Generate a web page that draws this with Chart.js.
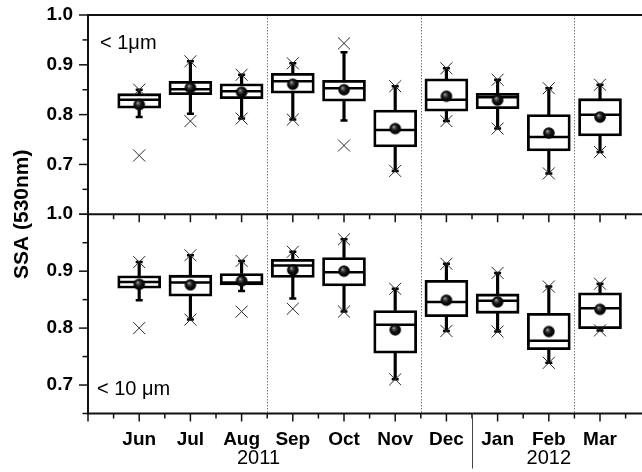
<!DOCTYPE html>
<html>
<head>
<meta charset="utf-8">
<script src="https://cdn.jsdelivr.net/npm/chart.js@4/dist/chart.umd.min.js"></script>
<style>
  html, body { margin: 0; padding: 0; background: #fff; }
  #wrap { width: 642px; height: 472px; position: relative; }
</style>
</head>
<body>
<div id="wrap"><canvas id="c" width="642" height="472"></canvas></div>
<script>
// Monthly SSA (530 nm) distributions, Jun 2011 - Mar 2012
const months = ['Jun', 'Jul', 'Aug', 'Sep', 'Oct', 'Nov', 'Dec', 'Jan', 'Feb', 'Mar'];
const monthPos = [1, 2, 3, 4, 5, 6, 7, 8, 9, 10];

// < 1 um
const pm1WhiskerLow  = [0.795, 0.802, 0.792, 0.790, 0.788, 0.687, 0.787, 0.772, 0.682, 0.725];
const pm1Q1          = [0.813, 0.840, 0.832, 0.843, 0.827, 0.735, 0.807, 0.812, 0.727, 0.757];
const pm1Median      = [0.830, 0.851, 0.847, 0.867, 0.853, 0.769, 0.830, 0.835, 0.755, 0.800];
const pm1Q3          = [0.842, 0.867, 0.862, 0.883, 0.869, 0.809, 0.872, 0.843, 0.800, 0.832];
const pm1WhiskerHigh = [0.850, 0.907, 0.880, 0.903, 0.925, 0.857, 0.893, 0.870, 0.853, 0.860];
const pm1Mean        = [0.820, 0.854, 0.845, 0.861, 0.850, 0.772, 0.837, 0.829, 0.763, 0.795];
const pm1Min         = [0.718, 0.787, 0.792, 0.790, 0.738, 0.687, 0.787, 0.772, 0.682, 0.725];
const pm1Max         = [0.850, 0.907, 0.880, 0.903, 0.943, 0.857, 0.893, 0.870, 0.853, 0.860];

// < 10 um
const pm10WhiskerLow  = [0.849, 0.815, 0.865, 0.852, 0.829, 0.710, 0.795, 0.794, 0.739, 0.796];
const pm10Q1          = [0.870, 0.856, 0.876, 0.889, 0.874, 0.756, 0.820, 0.826, 0.762, 0.799];
const pm10Median      = [0.881, 0.880, 0.880, 0.910, 0.898, 0.806, 0.846, 0.848, 0.778, 0.835];
const pm10Q3          = [0.892, 0.893, 0.896, 0.921, 0.924, 0.831, 0.884, 0.860, 0.826, 0.862];
const pm10WhiskerHigh = [0.916, 0.928, 0.918, 0.934, 0.956, 0.869, 0.913, 0.897, 0.873, 0.878];
const pm10Mean        = [0.877, 0.876, 0.883, 0.902, 0.900, 0.797, 0.849, 0.846, 0.794, 0.833];
const pm10Min         = [0.800, 0.815, 0.829, 0.834, 0.829, 0.710, 0.795, 0.794, 0.739, 0.796];
const pm10Max         = [0.916, 0.928, 0.918, 0.934, 0.956, 0.869, 0.913, 0.897, 0.873, 0.878];

// axis ticks and annotations
const yTicksTop = [0.7, 0.8, 0.9, 1.0];
const yTicksBottom = [0.7, 0.8, 0.9, 1.0];
const seasonBreaks = [3.5, 6.5, 9.5];
const yearBreak = 7.5;
const years = ['2011', '2012'];
const yearPos = [3.33, 9.0];

const FONT = "'Liberation Sans', Arial, Helvetica, sans-serif";

// shaded sphere used for the monthly mean
function makeBall(r) {
  const s = Math.ceil(r * 2 + 2);
  const cv = document.createElement('canvas');
  cv.width = s; cv.height = s;
  const g = cv.getContext('2d');
  const c = s / 2;
  const grad = g.createRadialGradient(c - r * 0.3, c - r * 0.35, 0, c, c, r);
  grad.addColorStop(0, '#d0d0d0');
  grad.addColorStop(0.22, '#5a5a5a');
  grad.addColorStop(0.55, '#111');
  grad.addColorStop(1, '#000');
  g.fillStyle = grad;
  g.beginPath(); g.arc(c, c, r, 0, Math.PI * 2); g.fill();
  return cv;
}
const ball = makeBall(5.8);

function pts(vals) { return monthPos.map((x, i) => ({ x, y: vals[i] })); }
function ranges(lo, hi) { return monthPos.map((x, i) => ({ x, y: [lo[i], hi[i]] })); }

function boxSets(axis, s) {
  const base = { yAxisID: axis, xAxisID: 'x' };
  return [
    Object.assign({ type: 'scatter', label: 'extremes', order: 0,
      data: pts(s.min).concat(pts(s.max)),
      pointStyle: 'crossRot', pointRadius: 8.5, borderWidth: 1, borderColor: '#2a2a2a', backgroundColor: '#2a2a2a' }, base),
    Object.assign({ type: 'scatter', label: 'mean', order: 1,
      data: pts(s.mean), pointStyle: ball, pointRadius: 6 }, base),
    Object.assign({ type: 'scatter', label: 'median', order: 2,
      data: pts(s.median), pointStyle: 'line', pointRadius: 20.5, borderWidth: 2.5, borderColor: '#000' }, base),
    Object.assign({ type: 'scatter', label: 'caps', order: 3,
      data: pts(s.wLo).concat(pts(s.wHi)), pointStyle: 'line', pointRadius: 3.5, borderWidth: 2.5, borderColor: '#000' }, base),
    Object.assign({ type: 'bar', label: 'box', order: 4, grouped: false,
      data: ranges(s.q1, s.q3), barThickness: 43, borderWidth: 2.8, borderSkipped: false,
      borderColor: '#000', backgroundColor: '#fff' }, base),
    Object.assign({ type: 'bar', label: 'whisker', order: 5, grouped: false,
      data: ranges(s.wLo, s.q1).concat(ranges(s.q3, s.wHi)), barThickness: 2.5, borderWidth: 0,
      backgroundColor: '#000' }, base)
  ];
}

const datasets = boxSets('yTop', {
  wLo: pm1WhiskerLow, q1: pm1Q1, median: pm1Median, q3: pm1Q3, wHi: pm1WhiskerHigh,
  mean: pm1Mean, min: pm1Min, max: pm1Max
}).concat(boxSets('yBot', {
  wLo: pm10WhiskerLow, q1: pm10Q1, median: pm10Median, q3: pm10Q3, wHi: pm10WhiskerHigh,
  mean: pm10Mean, min: pm10Min, max: pm10Max
}));

function line(ctx, x1, y1, x2, y2) {
  ctx.beginPath(); ctx.moveTo(x1, y1); ctx.lineTo(x2, y2); ctx.stroke();
}

// frame, tick marks, separators and the free text of the figure
const framePlugin = {
  id: 'framePlugin',
  beforeDatasetsDraw(chart) {
    const { ctx, chartArea: a, scales } = chart;
    const xs = scales.x;
    ctx.save();
    // dotted season separators
    ctx.strokeStyle = '#7a7a7a'; ctx.lineWidth = 1; ctx.setLineDash([1.5, 1.5]);
    seasonBreaks.forEach(v => {
      const px = Math.round(xs.getPixelForValue(v)) + 0.5;
      line(ctx, px, a.top, px, a.bottom);
    });
    ctx.setLineDash([]);
    ctx.restore();
  },
  afterDatasetsDraw(chart) {
    const { ctx, chartArea: a, scales } = chart;
    const xs = scales.x, yt = scales.yTop, yb = scales.yBot;
    const W = chart.width;
    ctx.save();
    ctx.strokeStyle = '#111';
    // panel frame
    ctx.lineWidth = 2;
    const mid = yt.bottom;
    line(ctx, a.left, a.top, W, a.top);
    line(ctx, a.left, mid, W, mid);
    line(ctx, a.left, a.bottom, W, a.bottom);
    line(ctx, a.left, a.top - 1, a.left, a.bottom + 1);
    // y tick marks
    ctx.lineWidth = 1.5;
    [[yt, 0.6, 1.0], [yb, 0.65, 1.0]].forEach(([sc, lo, hi]) => {
      for (let k = Math.round(lo * 20); k <= Math.round(hi * 20); k++) {
        const v = k / 20;
        const py = sc.getPixelForValue(v);
        const major = k % 2 === 0;
        line(ctx, a.left - (major ? 9 : 5.5), py, a.left, py);
      }
    });
    // x tick marks at the panel divider and along the bottom axis
    for (let k = 0; k <= Math.floor(xs.max * 2); k++) {
      const v = k / 2;
      const px = xs.getPixelForValue(v);
      const len = k % 2 === 0 ? 8 : 5;
      line(ctx, px, mid, px, mid + len);
      line(ctx, px, a.bottom, px, a.bottom + len);
    }
    // year divider below the axis
    ctx.strokeStyle = '#444'; ctx.lineWidth = 1;
    const yb7 = Math.round(xs.getPixelForValue(yearBreak)) + 0.5;
    line(ctx, yb7, a.bottom, yb7, a.bottom + 55);
    ctx.restore();
  },
  afterDraw(chart) {
    const { ctx, chartArea: a, scales } = chart;
    const xs = scales.x, yt = scales.yTop;
    ctx.save();
    ctx.fillStyle = '#000';
    // years
    ctx.font = `20px ${FONT}`;
    ctx.textAlign = 'center'; ctx.textBaseline = 'middle';
    years.forEach((t, i) => ctx.fillText(t, xs.getPixelForValue(yearPos[i]), a.bottom + 45));
    // size-fraction labels
    ctx.textAlign = 'left'; ctx.textBaseline = 'alphabetic';
    ctx.fillText('< 1\u03bcm', a.left + 12, a.top + 34);
    ctx.fillText('< 10 \u03bcm', a.left + 9, a.bottom - 19);
    // shared y title
    ctx.font = `bold 21px ${FONT}`;
    ctx.translate(22, yt.bottom);
    ctx.rotate(-Math.PI / 2);
    ctx.textAlign = 'center'; ctx.textBaseline = 'middle';
    ctx.fillText('SSA (530nm)', 0, 0);
    ctx.restore();
  }
};

function noPadding(s) {
  s.paddingLeft = 0; s.paddingRight = 0; s.paddingTop = 0; s.paddingBottom = 0;
}

const yCommon = {
  type: 'linear', position: 'left', stack: 'ssa', stackWeight: 1,
  grid: { display: false, drawTicks: false }, border: { display: false },
  ticks: {
    autoSkip: false, padding: 15, color: '#000',
    font: { family: FONT, size: 19, weight: 'bold' },
    callback: v => v.toFixed(1)
  },
  afterFit: s => { s.width = 88; noPadding(s); }
};

new Chart(document.getElementById('c'), {
  type: 'bar',
  data: { datasets },
  options: {
    responsive: false, animation: false, devicePixelRatio: 1,
    events: [],
    layout: { autoPadding: false, padding: { top: 15, left: 0, right: 0, bottom: 0 } },
    plugins: { legend: { display: false }, tooltip: { enabled: false } },
    scales: {
      x: {
        type: 'linear', position: 'bottom', min: 0, max: 10.82, offset: false,
        grid: { display: false, drawTicks: false, offset: false }, border: { display: false },
        afterBuildTicks: s => { s.ticks = monthPos.map(v => ({ value: v })); },
        ticks: {
          autoSkip: false, maxRotation: 0, padding: 15, color: '#000',
          font: { family: FONT, size: 19, weight: 'bold' },
          callback: v => months[monthPos.indexOf(v)] || ''
        },
        afterFit: s => { s.height = 58.5; noPadding(s); }
      },
      // stacked panels: listed bottom-first so the < 1 um panel sits on top
      yBot: Object.assign({}, yCommon, {
        min: 0.65, max: 1.0,
        afterBuildTicks: s => { s.ticks = yTicksBottom.map(v => ({ value: v })); }
      }),
      yTop: Object.assign({}, yCommon, {
        min: 0.6, max: 1.0,
        afterBuildTicks: s => { s.ticks = yTicksTop.map(v => ({ value: v })); }
      })
    }
  },
  plugins: [framePlugin]
});
</script>
</body>
</html>
